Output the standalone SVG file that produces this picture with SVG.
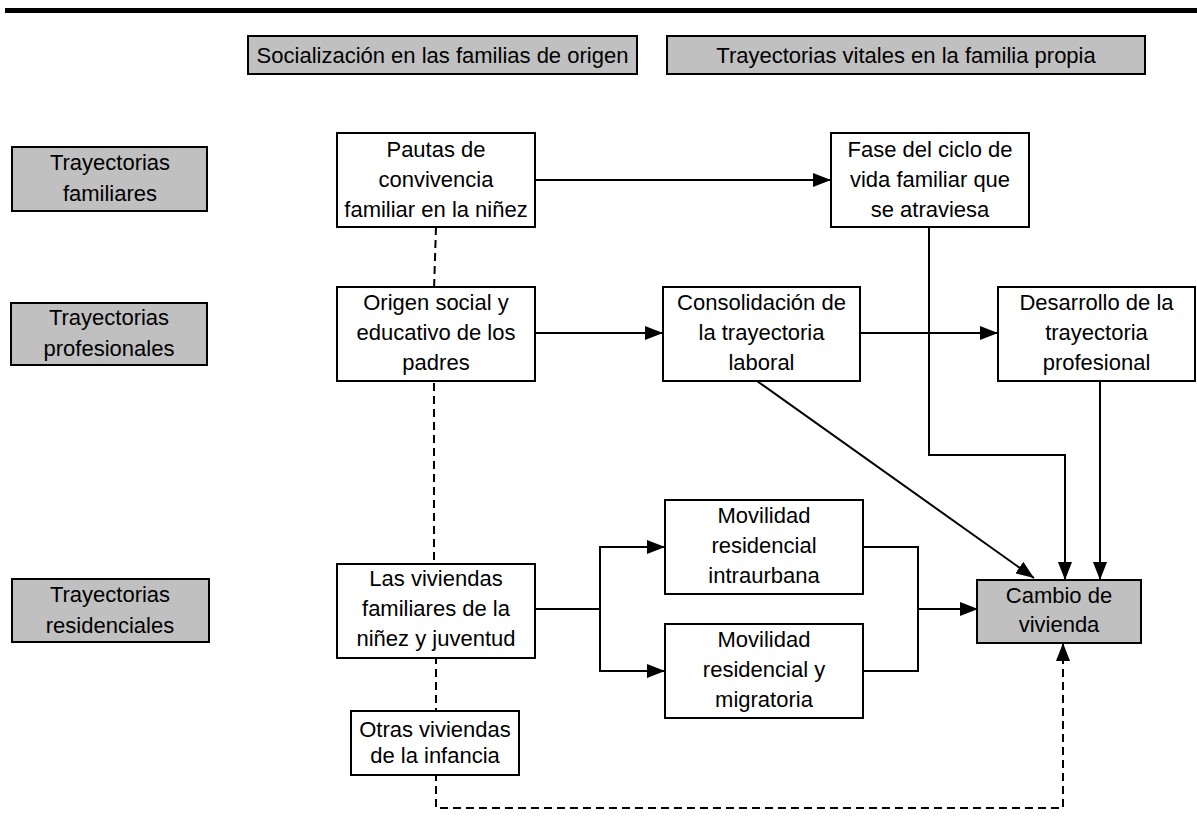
<svg xmlns="http://www.w3.org/2000/svg" width="1197" height="837" viewBox="0 0 1197 837">
  <style>
    .box { fill: #ffffff; stroke: #000000; stroke-width: 2; }
    .grey { fill: #c0c0c0; stroke: #000000; stroke-width: 2; }
    .label { font-family: "Liberation Sans", Arial, sans-serif; font-size: 22px; fill: #000000; text-anchor: middle; }
    .link { fill: none; stroke: #000000; stroke-width: 2; }
    .dash { fill: none; stroke: #000000; stroke-width: 2; stroke-dasharray: 8 5; }
  </style>
  <defs>
    <marker id="arrow" markerUnits="userSpaceOnUse" markerWidth="19" markerHeight="14" refX="18" refY="7" orient="auto">
      <path d="M0,0 L18,7 L0,14 Z" fill="#000000"/>
    </marker>
  </defs>

  <rect width="1197" height="837" fill="#ffffff"/>
  <!-- top rule -->
  <rect x="5" y="8" width="1192" height="5" fill="#000000"/>

  <!-- connectors -->
  <g id="connectors">
    <path class="link" d="M535,180 H831" marker-end="url(#arrow)"/>
    <path class="link" d="M535,333 H663" marker-end="url(#arrow)"/>
    <path class="link" d="M860,333 H998" marker-end="url(#arrow)"/>
    <path class="link" d="M929,227 V455 H1065 V580" marker-end="url(#arrow)"/>
    <path class="link" d="M1100,381 V580" marker-end="url(#arrow)"/>
    <path class="link" d="M757,381 L1034,578" marker-end="url(#arrow)"/>
    <path class="link" d="M535,609 H600"/>
    <path class="link" d="M600,609 V547 H665" marker-end="url(#arrow)"/>
    <path class="link" d="M600,609 V671 H665" marker-end="url(#arrow)"/>
    <path class="link" d="M863,547 H918 V671 H863"/>
    <path class="link" d="M918,609 H978" marker-end="url(#arrow)"/>
    <path class="dash" d="M436,227 L434,290 V560 L436,660 V808 H1063 V643" marker-end="url(#arrow)"/>
  </g>

  <!-- column headers -->
  <g id="header-origen">
    <rect class="grey" x="248" y="36" width="389" height="38"/>
    <text class="label" x="442.5" y="63">Socialización en las familias de origen</text>
  </g>
  <g id="header-propia">
    <rect class="grey" x="667" y="36" width="478" height="38"/>
    <text class="label" x="906" y="63">Trayectorias vitales en la familia propia</text>
  </g>

  <!-- row labels -->
  <g id="row-familiares">
    <rect class="grey" x="12" y="147" width="195" height="64"/>
    <text class="label" x="110" y="170">Trayectorias</text>
    <text class="label" x="110" y="201">familiares</text>
  </g>
  <g id="row-profesionales">
    <rect class="grey" x="11" y="303" width="196" height="62"/>
    <text class="label" x="109" y="325">Trayectorias</text>
    <text class="label" x="109" y="356">profesionales</text>
  </g>
  <g id="row-residenciales">
    <rect class="grey" x="12" y="579" width="197" height="63"/>
    <text class="label" x="110" y="602">Trayectorias</text>
    <text class="label" x="110" y="633">residenciales</text>
  </g>

  <!-- nodes -->
  <g id="pautas">
    <rect class="box" x="337" y="133" width="198" height="94"/>
    <text class="label" x="436" y="157">Pautas de</text>
    <text class="label" x="436" y="187">convivencia</text>
    <text class="label" x="436" y="217">familiar en la niñez</text>
  </g>
  <g id="fase">
    <rect class="box" x="831" y="133" width="198" height="94"/>
    <text class="label" x="930" y="157">Fase del ciclo de</text>
    <text class="label" x="930" y="187">vida familiar que</text>
    <text class="label" x="930" y="217">se atraviesa</text>
  </g>
  <g id="origen">
    <rect class="box" x="337" y="287" width="198" height="94"/>
    <text class="label" x="436" y="310">Origen social y</text>
    <text class="label" x="436" y="340">educativo de los</text>
    <text class="label" x="436" y="370">padres</text>
  </g>
  <g id="consolidacion">
    <rect class="box" x="663" y="287" width="197" height="94"/>
    <text class="label" x="761.5" y="310">Consolidación de</text>
    <text class="label" x="761.5" y="340">la trayectoria</text>
    <text class="label" x="761.5" y="370">laboral</text>
  </g>
  <g id="desarrollo">
    <rect class="box" x="998" y="287" width="197" height="94"/>
    <text class="label" x="1096.5" y="310">Desarrollo de la</text>
    <text class="label" x="1096.5" y="340">trayectoria</text>
    <text class="label" x="1096.5" y="370">profesional</text>
  </g>
  <g id="movilidad-intraurbana">
    <rect class="box" x="665" y="500" width="198" height="94"/>
    <text class="label" x="764" y="523">Movilidad</text>
    <text class="label" x="764" y="553">residencial</text>
    <text class="label" x="764" y="583">intraurbana</text>
  </g>
  <g id="movilidad-migratoria">
    <rect class="box" x="665" y="624" width="198" height="94"/>
    <text class="label" x="764" y="647">Movilidad</text>
    <text class="label" x="764" y="677">residencial y</text>
    <text class="label" x="764" y="707">migratoria</text>
  </g>
  <g id="viviendas">
    <rect class="box" x="337" y="564" width="198" height="94"/>
    <text class="label" x="436" y="586">Las viviendas</text>
    <text class="label" x="436" y="616">familiares de la</text>
    <text class="label" x="436" y="646">niñez y juventud</text>
  </g>
  <g id="cambio">
    <rect class="grey" x="977" y="580" width="164" height="63"/>
    <text class="label" x="1059" y="603">Cambio de</text>
    <text class="label" x="1059" y="632">vivienda</text>
  </g>
  <g id="otras">
    <rect class="box" x="351" y="711" width="168" height="64"/>
    <text class="label" x="435" y="737">Otras viviendas</text>
    <text class="label" x="435" y="763">de la infancia</text>
  </g>
</svg>
